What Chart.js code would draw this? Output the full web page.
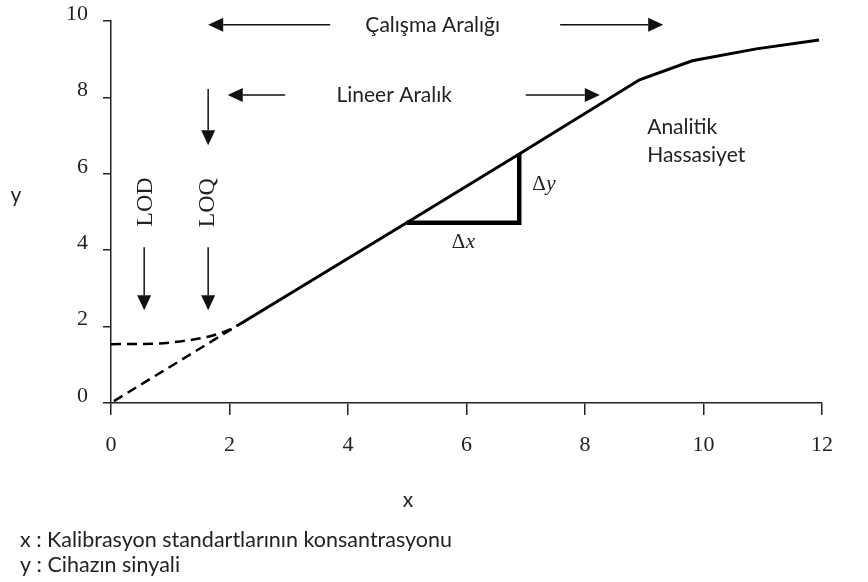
<!DOCTYPE html>
<html>
<head>
<meta charset="utf-8">
<script src="https://cdn.jsdelivr.net/npm/chart.js@4"></script>
<style>
  html, body { margin: 0; padding: 0; background: #fff; }
</style>
</head>
<body>
<canvas id="chart" width="868" height="582"></canvas>
<script>
// eksen degerleri
const xTicks = [0, 2, 4, 6, 8, 10, 12];
const yTicks = [0, 2, 4, 6, 8, 10];

// kalibrasyon egrisi (duz cizgi + doygunluk)
const curveX = [2.2, 4.99, 6.89, 8.92, 9.81, 10.89, 11.95];
const curveY = [2.09, 4.72, 6.52, 8.46, 8.96, 9.27, 9.50];
// orijinden gelen kesikli dogru
const originX = [0.05, 2.2];
const originY = [0.05, 2.09];
// kor sinyali (kesikli)
const blankX = [0, 0.8, 1.3, 1.7, 2.0, 2.2];
const blankY = [1.54, 1.56, 1.64, 1.76, 1.92, 2.09];
// egim ucgeni
const triX = [4.99, 6.89, 6.89];
const triY = [4.72, 4.72, 6.52];

// oklar: [x1, y1, x2(uc), y2(uc)]
const arrows = [
  [3.70, 9.9, 1.64, 9.9],
  [7.58, 9.9, 9.32, 9.9],
  [2.94, 8.06, 1.97, 8.06],
  [7.00, 8.06, 8.25, 8.06],
  [1.64, 8.22, 1.64, 6.75],
  [0.56, 4.08, 0.56, 2.43],
  [1.64, 4.08, 1.64, 2.43]
];

const pts = (xs, ys) => xs.map((v, i) => ({ x: v, y: ys[i] }));

const SANS = 'Lato, "Open Sans", sans-serif';
const SERIF = '"Liberation Serif", "DejaVu Serif", serif';

function drawArrow(ctx, x1, y1, x2, y2) {
  const ang = Math.atan2(y2 - y1, x2 - x1);
  const hl = 15, hw = 7;
  ctx.beginPath();
  ctx.moveTo(x1, y1);
  ctx.lineTo(x2 - Math.cos(ang) * hl, y2 - Math.sin(ang) * hl);
  ctx.stroke();
  ctx.beginPath();
  ctx.moveTo(x2, y2);
  ctx.lineTo(x2 - Math.cos(ang) * hl - Math.sin(ang) * hw, y2 - Math.sin(ang) * hl + Math.cos(ang) * hw);
  ctx.lineTo(x2 - Math.cos(ang) * hl + Math.sin(ang) * hw, y2 - Math.sin(ang) * hl - Math.cos(ang) * hw);
  ctx.closePath();
  ctx.fill();
}

const notes = {
  id: 'notes',
  afterDatasetsDraw(chart) {
    const { ctx, scales: { x, y } } = chart;
    const px = v => x.getPixelForValue(v);
    const py = v => y.getPixelForValue(v);
    ctx.save();
    ctx.strokeStyle = '#111';
    ctx.fillStyle = '#111';
    ctx.lineWidth = 1.5;
    arrows.forEach(a => drawArrow(ctx, px(a[0]), py(a[1]), px(a[2]), py(a[3])));

    ctx.fillStyle = '#222';
    ctx.textBaseline = 'middle';
    ctx.font = '21px ' + SANS;
    ctx.textAlign = 'center';
    ctx.fillText('Çalışma Aralığı', px(5.43), py(9.9));
    ctx.fillText('Lineer Aralık', px(4.78), py(8.06));
    ctx.textAlign = 'left';
    ctx.fillText('Analitik', px(9.05), py(7.23));
    ctx.fillText('Hassasiyet', px(9.05), py(6.49));

    // delta etiketleri
    ctx.font = '21px ' + SERIF;
    ctx.textAlign = 'left';
    ctx.fillText('Δ', px(7.11), py(5.71));
    ctx.fillText('Δ', px(5.75), py(4.19));
    ctx.font = 'italic 21px ' + SERIF;
    ctx.fillText('y', px(7.11) + 14, py(5.71));
    ctx.fillText('x', px(5.75) + 14, py(4.19));

    // LOD / LOQ dikey yazilar
    ctx.font = '24px ' + SERIF;
    ctx.textAlign = 'center';
    [['LOD', 0.59, 5.26], ['LOQ', 1.63, 5.24]].forEach(([t, a, b]) => {
      ctx.save();
      ctx.translate(px(a), py(b));
      ctx.rotate(-Math.PI / 2);
      ctx.fillText(t, 0, 0);
      ctx.restore();
    });

    // eksen adlari ve aciklama
    ctx.font = '21px ' + SANS;
    ctx.fillText('y', 16, 195);
    ctx.fillText('x', 408, 500);
    ctx.textAlign = 'left';
    ctx.font = '21.5px ' + SANS;
    ctx.fillText('x : Kalibrasyon standartlarının konsantrasyonu', 20, 540);
    ctx.fillText('y : Cihazın sinyali', 20, 565);
    ctx.restore();
  }
};

new Chart(document.getElementById('chart'), {
  type: 'line',
  data: {
    datasets: [
      { data: pts(curveX, curveY), borderColor: '#000', borderWidth: 3 },
      { data: pts(originX, originY), borderColor: '#000', borderWidth: 2.5, borderDash: [10, 6] },
      { data: pts(blankX, blankY), borderColor: '#000', borderWidth: 2.5, borderDash: [10, 6], cubicInterpolationMode: 'monotone' },
      { data: pts(triX, triY), borderColor: '#000', borderWidth: 4.5, borderJoinStyle: 'miter' }
    ]
  },
  options: {
    responsive: false,
    animation: false,
    devicePixelRatio: 1,
    layout: { padding: { top: 21, right: 46, left: 0, bottom: 0 } },
    elements: { point: { radius: 0 }, line: { tension: 0, fill: false } },
    plugins: { legend: { display: false }, tooltip: { enabled: false } },
    scales: {
      x: {
        type: 'linear', min: 0, max: 12,
        afterBuildTicks: s => { s.ticks = xTicks.map(v => ({ value: v })); },
        afterFit: s => { s.height = 179; s.paddingLeft = 0; s.paddingRight = 0; },
        border: { color: '#222', width: 1.5 },
        grid: { drawOnChartArea: false, color: '#222', lineWidth: 1.5, tickLength: 12 },
        ticks: { color: '#222', padding: 17, font: { family: SERIF, size: 22 }, autoSkip: false, maxRotation: 0 }
      },
      y: {
        type: 'linear', min: 0, max: 10,
        afterBuildTicks: s => { s.ticks = yTicks.map(v => ({ value: v })); },
        afterFit: s => { s.width = 111; s.paddingTop = 0; s.paddingBottom = 0; },
        border: { color: '#222', width: 1.5 },
        grid: { drawOnChartArea: false, color: '#222', lineWidth: 1.5, tickLength: 8 },
        ticks: { color: '#222', padding: 15, labelOffset: -7, font: { family: SERIF, size: 22 } }
      }
    }
  },
  plugins: [notes]
});
</script>
</body>
</html>
